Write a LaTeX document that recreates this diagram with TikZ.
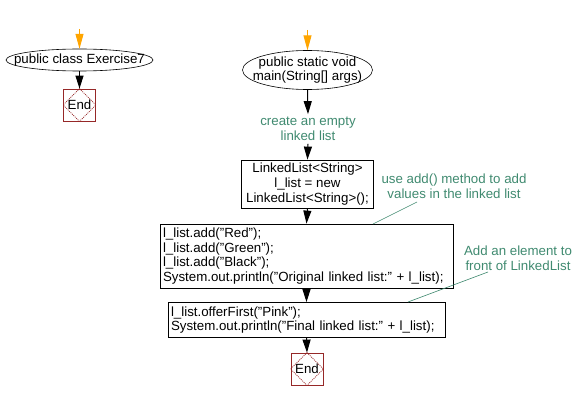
\documentclass[tikz,border=0pt]{standalone}
\usepackage{fontspec}
\setmainfont{Liberation Sans}
\usetikzlibrary{shapes.geometric,arrows.meta}
\definecolor{notegreen}{RGB}{64,138,112}
\definecolor{endred}{RGB}{150,40,40}
\definecolor{startorange}{RGB}{255,165,0}
\begin{document}
\begin{tikzpicture}[x=1pt,y=-1pt,
  font=\fontsize{13.3}{14.6}\selectfont,
  flowarrow/.style={-{Triangle[width=8pt,length=13pt]}, line width=1pt, black},
  startarrow/.style={flowarrow, draw=startorange, -{Triangle[width=8pt,length=15pt,fill=startorange]}},
  termin/.style={inner sep=0pt, align=center},
  termline/.style={draw, line width=0.6pt},
  procbox/.style={draw, line width=0.8pt, inner sep=0pt, align=center},
  codebox/.style={draw, line width=0.8pt, inner xsep=3pt, inner ysep=0pt, align=left},
  endbox/.style={draw=endred, line width=0.8pt, minimum size=32pt, inner sep=0pt},
  enddiamond/.style={draw=endred, line width=0.8pt, dash pattern=on 1pt off 1pt},
  note/.style={text=notegreen, align=center, inner sep=1pt},
  noteline/.style={draw=notegreen, line width=0.6pt}
]
\useasboundingbox (0,0) rectangle (578,401);

% left flow
\coordinate (ls) at (79.5,29);
\node[termin, minimum width=147pt, minimum height=22pt] (lcls) at (79.5,60) {public class Exercise7};
\draw[termline] (lcls.center) ellipse [x radius=73.5, y radius=11];
\node[endbox] (lend) at (79.5,105) {End};
\draw[enddiamond] (lend.north) -- (lend.east) -- (lend.south) -- (lend.west) -- cycle;
\draw[startarrow] (ls) -- (lcls.north);
\draw[flowarrow] (lcls.south) -- (lend.north);

% right flow
\coordinate (rs) at (307.5,30);
\node[termin, minimum width=130pt, minimum height=39pt] (main) at (307.5,70) {public static void\\main(String[] args)};
\draw[termline] (main.center) ellipse [x radius=65, y radius=19.5];
\node[note, inner sep=3pt] (c0) at (308,129) {create an empty\\linked list};
\node[procbox, minimum width=132pt, minimum height=48pt] (b1) at (307.5,184) {LinkedList<String>\\l\_list = new\\LinkedList<String>();};
\node[codebox, text width=287pt, minimum height=64pt] (b2) at (306.5,256) {l\_list.add("Red");\\l\_list.add("Green");\\l\_list.add("Black");\\System.out.println("Original linked list:" + l\_list);};
\node[codebox, text width=271pt, minimum height=35pt] (b3) at (306.5,320) {l\_list.offerFirst("Pink");\\System.out.println("Final linked list:" + l\_list);};
\node[endbox] (rend) at (307,369) {End};
\draw[enddiamond] (rend.north) -- (rend.east) -- (rend.south) -- (rend.west) -- cycle;

\draw[startarrow] (rs) -- (main.north);
\draw[flowarrow] (main.south) -- (c0.north);
\draw[flowarrow] (c0.south) -- (b1.north);
\draw[flowarrow] (b1.south) -- (b2.north);
\draw[flowarrow] (b2.south) -- (b3.north);
\draw[flowarrow] (b3.south) -- (rend.north);

% notes
\node[note] (n1) at (454,186) {use add() method to add\\values in the linked list};
\node[note] (n2) at (518,258) {Add an element to\\front of LinkedList};
\coordinate (n1a) at (417,202);
\coordinate (n1b) at (373,224);
\coordinate (n2a) at (488,272);
\coordinate (n2b) at (408,302);
\draw[noteline] (n1a) -- (n1b);
\draw[noteline] (n2a) -- (n2b);
\end{tikzpicture}
\end{document}
